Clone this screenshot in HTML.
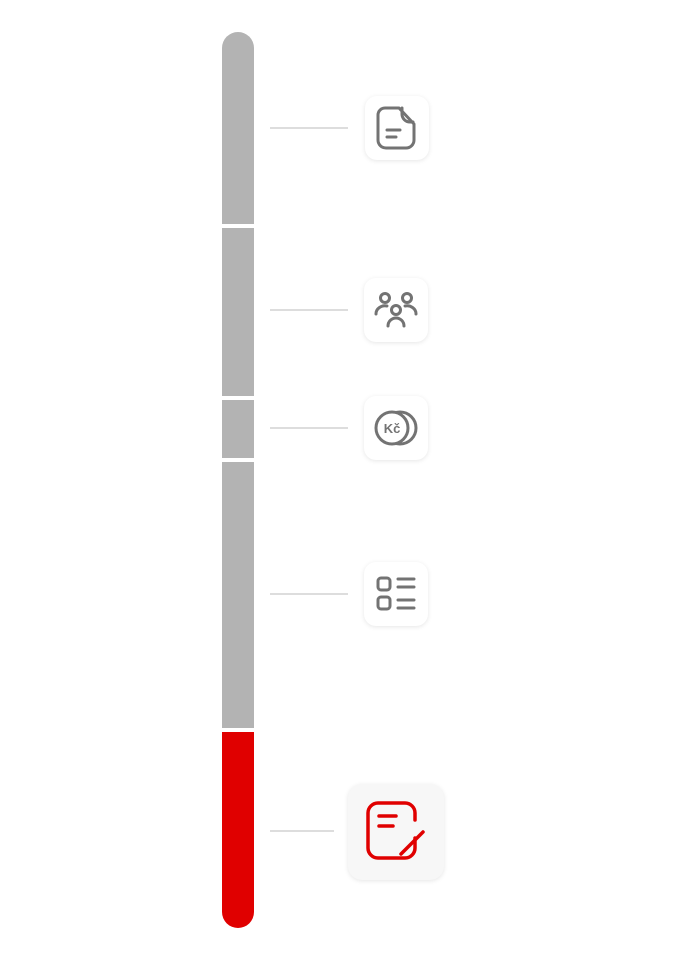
<!DOCTYPE html><html><head><style>
body{margin:0;width:680px;height:960px;background:#fff;position:relative;overflow:hidden;font-family:"Liberation Sans",sans-serif}
.s{position:absolute;left:222px;width:32px;background:#b3b3b3}
.l{position:absolute;left:270px;width:78px;height:2px;background:#ddd}
.b{position:absolute;width:64px;height:64px;border-radius:12px;background:#fff;box-shadow:0 1px 5px rgba(0,0,0,.1)}
.b svg{position:absolute;left:0;top:0}
</style></head><body>
<div class="s" style="top:32px;height:192px;border-radius:16px 16px 0 0"></div>
<div class="s" style="top:228px;height:168px"></div>
<div class="s" style="top:400px;height:58px"></div>
<div class="s" style="top:462px;height:266px"></div>
<div class="s" style="top:732px;height:196px;background:#e00000;border-radius:0 0 16px 16px"></div>
<div class="l" style="top:127px"></div>
<div class="l" style="top:309px"></div>
<div class="l" style="top:427px"></div>
<div class="l" style="top:593px"></div>
<div class="l" style="top:830px;width:64px"></div>
<div class="b" style="left:365px;top:96px"><svg width="64" height="64" viewBox="0 0 64 64" fill="none" stroke="#737373" stroke-width="3" stroke-linecap="round" stroke-linejoin="round"><path d="M20 12h14l15 16v16a8 8 0 0 1-8 8H21a8 8 0 0 1-8-8V19a7 7 0 0 1 7-7z"/><path d="M37 12v6a8 8 0 0 0 8 8h3"/><path d="M22 34h13M22 41h9"/></svg></div>
<div class="b" style="left:364px;top:278px"><svg width="64" height="64" viewBox="0 0 64 64" fill="none" stroke="#737373" stroke-width="3" stroke-linecap="round"><circle cx="21" cy="20" r="4.5"/><circle cx="43" cy="20" r="4.5"/><circle cx="32" cy="32" r="4.5"/><path d="M12 36a9 8 0 0 1 11-8M52 36a9 8 0 0 0-11-8M24 48a8 8 0 0 1 16 0"/></svg></div>
<div class="b" style="left:364px;top:396px"><svg width="64" height="64" viewBox="0 0 64 64" fill="none" stroke="#737373" stroke-width="3"><circle cx="36" cy="32" r="16"/><circle cx="28" cy="32" r="16" fill="#fff"/><text x="28" y="37" font-family="Liberation Sans" font-size="13" font-weight="bold" fill="#737373" stroke="none" text-anchor="middle">Kč</text></svg></div>
<div class="b" style="left:364px;top:562px"><svg width="64" height="64" viewBox="0 0 64 64" fill="none" stroke="#737373" stroke-width="3" stroke-linecap="round"><rect x="14" y="16" width="12" height="12" rx="3"/><rect x="14" y="35" width="12" height="12" rx="3"/><path d="M34 17h16M34 25h16M34 38h16M34 46h16"/></svg></div>
<div class="b" style="left:348px;top:784px;width:96px;height:96px;background:#f7f7f7;border-radius:14px"><svg width="96" height="96" viewBox="0 0 96 96" fill="none" stroke="#e00000" stroke-width="3.5" stroke-linecap="round"><path d="M67 36v-7a10 10 0 0 0-10-10H30a10 10 0 0 0-10 10v35a10 10 0 0 0 10 10h27a10 10 0 0 0 10-10v-10"/><path d="M31 32h17M31 42h14M53 70l22-22"/></svg></div>
</body></html>
